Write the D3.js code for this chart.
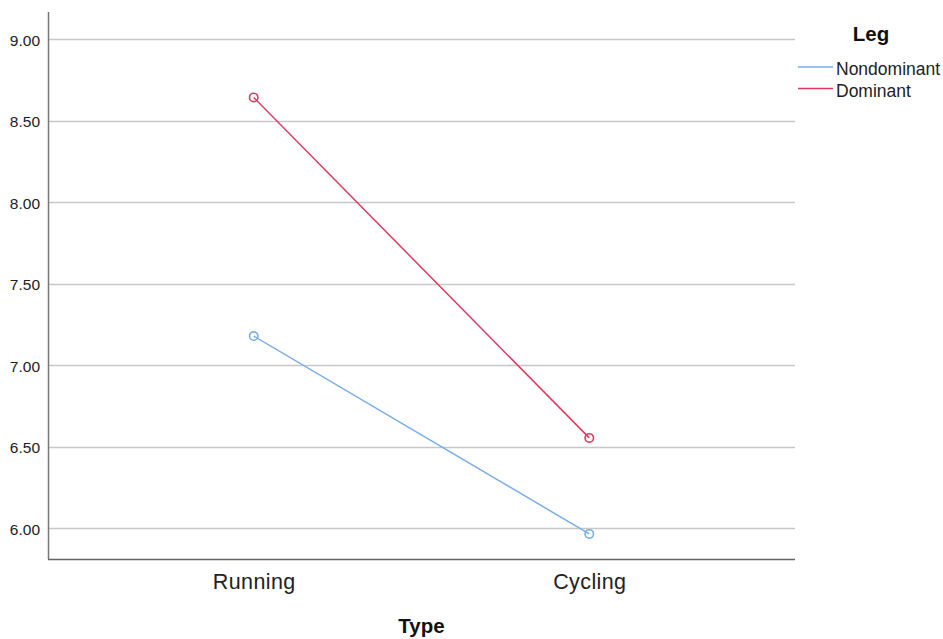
<!DOCTYPE html>
<html>
<head>
<meta charset="utf-8">
<script src="https://cdn.jsdelivr.net/npm/d3@7"></script>
<style>
  html, body { margin: 0; padding: 0; background: #fff; }
  svg { display: block; font-family: "Liberation Sans", Arial, sans-serif; }
</style>
</head>
<body>
<svg id="chart" width="943" height="639"></svg>
<script>
// Estimated marginal means by exercise type and leg
const categories = ["Running", "Cycling"];
const seriesNames = ["Nondominant", "Dominant"];
const nondominant = [7.178, 5.964];
const dominant = [8.642, 6.553];
const yTicks = [6.0, 6.5, 7.0, 7.5, 8.0, 8.5, 9.0];
const colors = ["#7aaeea", "#e0385f"];

const series = [
  { name: seriesNames[0], values: nondominant, color: colors[0] },
  { name: seriesNames[1], values: dominant, color: colors[1] }
];

const svg = d3.select("#chart");
const plot = { left: 48, right: 795, top: 12, bottom: 559 };

const x = d3.scalePoint()
  .domain(categories)
  .range([plot.left, plot.right])
  .padding(0.613);

const y = d3.scaleLinear()
  .domain([5.81, 9.166])
  .range([plot.bottom, plot.top]);

// horizontal gridlines
svg.append("g")
  .selectAll("line")
  .data(yTicks)
  .join("line")
  .attr("x1", plot.left)
  .attr("x2", plot.right)
  .attr("y1", d => Math.round(y(d)) + 0.5)
  .attr("y2", d => Math.round(y(d)) + 0.5)
  .attr("stroke", "#c8c8c8")
  .attr("stroke-width", 1.5);

// y axis
const yAxis = svg.append("g")
  .attr("transform", `translate(${plot.left},0)`)
  .call(d3.axisLeft(y).tickValues(yTicks).tickFormat(d3.format(".2f")).tickSize(0).tickPadding(8));
yAxis.select(".domain").remove();
yAxis.selectAll("text")
  .attr("fill", "#222")
  .attr("dy", "0.4em")
  .style("font-size", "15.5px")
  .style("font-family", "'Liberation Sans', Arial, sans-serif");

// x axis
const xAxis = svg.append("g")
  .attr("transform", `translate(0,${plot.bottom})`)
  .call(d3.axisBottom(x).tickSize(0).tickPadding(15));
xAxis.select(".domain").remove();
xAxis.selectAll("text")
  .attr("fill", "#222")
  .style("font-size", "21.5px")
  .style("letter-spacing", "0.4px")
  .style("font-family", "'Liberation Sans', Arial, sans-serif");

// axis lines
svg.append("line")
  .attr("x1", plot.left + 0.5).attr("x2", plot.left + 0.5)
  .attr("y1", plot.top).attr("y2", plot.bottom)
  .attr("stroke", "#777").attr("stroke-width", 1.5);
svg.append("line")
  .attr("x1", plot.left).attr("x2", plot.right)
  .attr("y1", plot.bottom + 0.5).attr("y2", plot.bottom + 0.5)
  .attr("stroke", "#666").attr("stroke-width", 1.5);

// x axis title
svg.append("text")
  .attr("x", (plot.left + plot.right) / 2)
  .attr("y", 633)
  .attr("text-anchor", "middle")
  .attr("font-weight", "bold")
  .attr("font-size", "20.5px")
  .attr("fill", "#111")
  .text("Type");

// lines and markers
const line = d3.line()
  .x((d, i) => x(categories[i]))
  .y(d => y(d));

const g = svg.append("g");
series.forEach(s => {
  g.append("path")
    .datum(s.values)
    .attr("d", line)
    .attr("fill", "none")
    .attr("stroke", s.color)
    .attr("stroke-width", 1.5);
  g.selectAll(null)
    .data(s.values)
    .join("circle")
    .attr("cx", (d, i) => x(categories[i]))
    .attr("cy", d => y(d))
    .attr("r", 4.2)
    .attr("fill", "none")
    .attr("stroke", s.color)
    .attr("stroke-width", 1.6);
});

// legend
const legend = svg.append("g");
legend.append("text")
  .attr("x", 871)
  .attr("y", 41)
  .attr("text-anchor", "middle")
  .attr("font-weight", "bold")
  .attr("font-size", "20.5px")
  .attr("fill", "#111")
  .text("Leg");
series.forEach((s, i) => {
  const ly = 67 + i * 21.5;
  legend.append("line")
    .attr("x1", 798).attr("x2", 833)
    .attr("y1", ly).attr("y2", ly)
    .attr("stroke", s.color).attr("stroke-width", 1.5);
  legend.append("text")
    .attr("x", 836)
    .attr("y", ly + 8)
    .attr("font-size", "17.5px")
    .attr("fill", "#222")
    .text(s.name);
});
</script>
</body>
</html>
